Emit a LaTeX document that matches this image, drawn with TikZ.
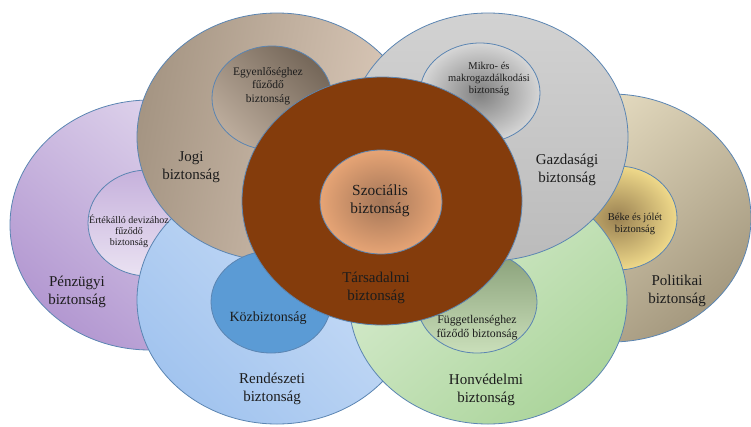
\documentclass[tikz,border=0pt]{standalone}
\usepackage{fontspec}
\setmainfont{Liberation Serif}
\usetikzlibrary{shapes.geometric}
\definecolor{rim}{HTML}{5B85B2}
\definecolor{ink}{HTML}{1C1C1C}
% Pénzügyi
\definecolor{penzA}{HTML}{E4DBEF}\definecolor{penzB}{HTML}{B398D1}
\definecolor{deviA}{HTML}{C6B1DC}\definecolor{deviB}{HTML}{EAE2F2}
% Politikai
\definecolor{poliA}{HTML}{EEE5CA}\definecolor{poliB}{HTML}{A5997F}
\definecolor{bekeA}{HTML}{9A8152}\definecolor{bekeB}{HTML}{EFD98A}
% Rendészeti
\definecolor{rendA}{HTML}{CEE0F7}\definecolor{rendB}{HTML}{A2C4EF}
\definecolor{kozb}{HTML}{5B9BD5}
% Jogi
\definecolor{jogiA}{HTML}{A59583}\definecolor{jogiB}{HTML}{DFCDBD}
\definecolor{egyenA}{HTML}{756759}\definecolor{egyenB}{HTML}{BCAC9C}
% Honvédelmi
\definecolor{honvA}{HTML}{DAEDD2}\definecolor{honvB}{HTML}{ACD59C}
\definecolor{fuggA}{HTML}{889F78}\definecolor{fuggB}{HTML}{CADFBA}
% Gazdasági
\definecolor{gazdA}{HTML}{D2D2D2}\definecolor{gazdB}{HTML}{BBBBBB}
\definecolor{mikroA}{HTML}{808080}\definecolor{mikroB}{HTML}{D6D6D6}
% Társadalmi
\definecolor{tars}{HTML}{843C0C}
\definecolor{szocA}{HTML}{A47658}\definecolor{szocB}{HTML}{E6A475}
\begin{document}
\begin{tikzpicture}[x=1pt,y=-1pt,
  ring/.style 2 args={ellipse, draw=rim, line width=0.8pt, inner sep=0pt,
    minimum width=#1pt, minimum height=#2pt},
  biglabel/.style={align=center, text=ink, font=\fontsize{15}{18}\selectfont},
  midlabel/.style={align=center, text=ink, font=\fontsize{12}{14}\selectfont},
  smalllabel/.style={align=center, text=ink, font=\fontsize{10.5}{12}\selectfont},
  tinylabel/.style={align=center, text=ink, font=\fontsize{10}{10.8}\selectfont}]
\useasboundingbox (0,0) rectangle (751,426);

% Pénzügyi biztonság
\node[ring={280}{250}, top color=penzA, bottom color=penzB, shading angle=-40] (penz) at (150,225) {};
\node[ring={120}{106}, top color=deviA, bottom color=deviB] (devi) at (148,223) {};
% Politikai biztonság
\node[ring={280}{248}, top color=poliA, bottom color=poliB, shading angle=40] (poli) at (611,218) {};
\node[ring={120}{104}, inner color=bekeA, outer color=bekeB] (beke) at (617,218) {};
% Rendészeti biztonság
\node[ring={280}{248}, top color=rendA, bottom color=rendB, shading angle=-45] (rend) at (277,300) {};
% Jogi biztonság
\node[ring={280}{248}, left color=jogiA, right color=jogiB, shading angle=80] (jogi) at (277,137) {};
\node[ring={120}{104}, top color=egyenA, bottom color=egyenB, shading angle=-45] (egyen) at (272,98) {};
\node[ring={120}{102}, fill=kozb] (kozbk) at (271,302) {};
% Honvédelmi biztonság
\node[ring={278}{248}, top color=honvA, bottom color=honvB, shading angle=40] (honv) at (488,300) {};
\node[ring={120}{102}, top color=fuggA, bottom color=fuggB] (fugg) at (477,302) {};
% Gazdasági biztonság
\node[ring={280}{248}, top color=gazdA, bottom color=gazdB] (gazd) at (488,137) {};
\node[ring={120}{100}, inner color=mikroA, outer color=mikroB] (mikro) at (480,93) {};
% Társadalmi biztonság
\node[ring={280}{248}, fill=tars] (tarsk) at (382,201) {};
\node[ring={122}{104}, inner color=szocA, outer color=szocB] (szoc) at (381,202) {};

% Labels
\node[biglabel] (tpenz) at (77,292) {Pénzügyi\\biztonság};
\node[tinylabel] (tdevi) at (129,231) {Értékálló devizához\\fűződő\\biztonság};
\node[biglabel] (tpoli) at (677,291) {Politikai\\biztonság};
\node[smalllabel] (tbeke) at (635,224) {Béke és jólét\\biztonság};
\node[biglabel] (trend) at (272,389) {Rendészeti\\biztonság};
\node[biglabel] (tjogi) at (191,167) {Jogi\\biztonság};
\node[midlabel, font=\fontsize{11.5}{13.5}\selectfont] (tegyen) at (268,86) {Egyenlőséghez\\fűződő\\biztonság};
\node[biglabel, font=\fontsize{14}{16}\selectfont] (tkozb) at (268,318) {Közbiztonság};
\node[biglabel] (thonv) at (486,390) {Honvédelmi\\biztonság};
\node[midlabel, font=\fontsize{11.8}{14}\selectfont] (tfugg) at (477,328) {Függetlenséghez\\fűződő biztonság};
\node[biglabel] (tgazd) at (567,170) {Gazdasági\\biztonság};
\node[smalllabel] (tmikro) at (489,79) {Mikro- és\\makrogazdálkodási\\biztonság};
\node[biglabel] (ttars) at (376,288) {Társadalmi\\biztonság};
\node[biglabel, font=\fontsize{15.4}{18}\selectfont] (tszoc) at (380,201) {Szociális\\biztonság};
\end{tikzpicture}
\end{document}
